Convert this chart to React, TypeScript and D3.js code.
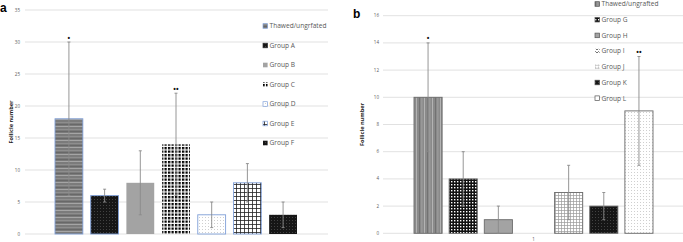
import React from "react";
import * as d3 from "d3";

// ---------- Data ----------
const groupsA = ["Thawed/ungrfated", "Group A", "Group B", "Group C", "Group D", "Group E", "Group F"];
const valuesA = [18, 6, 8, 14, 3, 8, 3];
const errLowA = [6, 5, 3, 6, 1, 5, 1];
const errHighA = [30, 7, 13, 22, 5, 11, 5];
const starsA = ["*", "", "", "**", "", "", ""];
const ticksA = [0, 5, 10, 15, 20, 25, 30, 35];

const groupsB = ["Thawed/ungrafted", "Group G", "Group H", "Group I", "Group J", "Group K", "Group L"];
const valuesB = [10, 4, 1, 0, 3, 2, 9];
const errLowB = [6, 2, 0, 0, 1, 1, 5];
const errHighB = [14, 6, 2, 0, 5, 3, 13];
const starsB = ["*", "", "", "", "", "", "**"];
const ticksB = [0, 2, 4, 6, 8, 10, 12, 14, 16];
const xLabelB = "1";

const yTitle = "Follicle number";

// ---------- Styles ----------
const patA = ["pHStripe", "pDarkDots", "pGrey", "pCheck", "pLightDots", "pGrid", "pDarkDots"];
const borderA = ["#7f9fd8", "#7f9fd8", "none", "none", "#7f9fd8", "#7f9fd8", "none"];
const patB = ["pVStripe", "pSmallCheck", "pGrey", "pZig", "pLightGrid", "pDarkDots", "pLightDots"];
const borderB = ["#6a6a6a", "#6a6a6a", "#6a6a6a", "none", "#6a6a6a", "#6a6a6a", "#6a6a6a"];
const legPatA = ["pHStripe", "pDarkDots", "pGrey", "pCheck", "pLightDots", "pGrid", "pDarkDots"];
const legPatB = ["pVStripe", "pSmallCheck", "pGrey", "pZig", "pTri", "pDarkDots", "pWhite"];

const font = "'Open Sans', 'Noto Sans', sans-serif";
const textCol = "#595959";

function Defs() {
  return (
    <defs>
      <pattern id="pHStripe" width="6" height="7" patternUnits="userSpaceOnUse">
        <rect width="6" height="7" fill="#7b7b7b" />
        <rect y="0" width="6" height="0.8" fill="#b0b0b0" />
        <rect y="3" width="6" height="0.6" fill="#9a9a9a" />
        <rect y="5" width="6" height="0.7" fill="#5f5f5f" />
      </pattern>
      <pattern id="pVStripe" width="8" height="6" patternUnits="userSpaceOnUse">
        <rect width="8" height="6" fill="#8a8a8a" />
        <rect x="0" width="1" height="6" fill="#b3b3b3" />
        <rect x="3" width="0.8" height="6" fill="#6c6c6c" />
        <rect x="5.5" width="0.8" height="6" fill="#a6a6a6" />
      </pattern>
      <pattern id="pDarkDots" width="3" height="3" patternUnits="userSpaceOnUse">
        <rect width="3" height="3" fill="#161616" />
        <rect x="1" y="1" width="0.8" height="0.8" fill="#5a5a5a" />
      </pattern>
      <pattern id="pGrey" width="4" height="4" patternUnits="userSpaceOnUse">
        <rect width="4" height="4" fill="#a3a3a3" />
      </pattern>
      <pattern id="pCheck" width="3.5" height="3.5" patternUnits="userSpaceOnUse">
        <rect width="3.5" height="3.5" fill="#ffffff" />
        <rect x="0" y="0" width="2.3" height="2.3" fill="#000000" />
      </pattern>
      <pattern id="pSmallCheck" width="3" height="3" patternUnits="userSpaceOnUse">
        <rect width="3" height="3" fill="#111111" />
        <rect x="1" y="1" width="1.4" height="1.4" fill="#ffffff" />
      </pattern>
      <pattern id="pLightDots" width="3" height="3" patternUnits="userSpaceOnUse">
        <rect width="3" height="3" fill="#ffffff" />
        <rect x="1" y="1" width="0.8" height="0.8" fill="#b5b5b5" />
      </pattern>
      <pattern id="pGrid" width="4" height="4" patternUnits="userSpaceOnUse">
        <rect width="4" height="4" fill="#ffffff" />
        <rect x="0" y="0" width="4" height="0.8" fill="#222" />
        <rect x="0" y="0" width="0.8" height="4" fill="#222" />
      </pattern>
      <pattern id="pLightGrid" width="3" height="3" patternUnits="userSpaceOnUse">
        <rect width="3" height="3" fill="#ffffff" />
        <rect x="0" y="0" width="3" height="0.7" fill="#9a9a9a" />
        <rect x="0" y="0" width="0.7" height="3" fill="#9a9a9a" />
      </pattern>
      <pattern id="pZig" width="3" height="3" patternUnits="userSpaceOnUse">
        <rect width="3" height="3" fill="#ffffff" />
        <path d="M0,2 L1.5,0.5 L3,2" stroke="#333" strokeWidth="0.7" fill="none" />
      </pattern>
      <pattern id="pTri" width="3" height="3" patternUnits="userSpaceOnUse">
        <rect width="3" height="3" fill="#ffffff" />
        <path d="M0,3 L1.5,0 L3,3 Z" fill="#c8c8c8" />
      </pattern>
      <pattern id="pWhite" width="3" height="3" patternUnits="userSpaceOnUse">
        <rect width="3" height="3" fill="#ffffff" />
      </pattern>
    </defs>
  );
}

interface PanelProps {
  groups: string[];
  values: number[];
  lo: number[];
  hi: number[];
  stars: string[];
  ticks: number[];
  yMax: number;
  yRange: [number, number];
  xRange: [number, number];
  padInner: number;
  gridX: [number, number];
  tickX: number;
  titleX: number;
  pats: string[];
  borders: string[];
  legPats: string[];
  legBorders: string[];
  legX: number;
  legY0: number;
  legStep: number;
  label: string;
  labelX: number;
  xLabel?: string;
}

function Panel(p: PanelProps) {
  const y = d3.scaleLinear().domain([0, p.yMax]).range(p.yRange);
  const x = d3.scaleBand<string>().domain(p.groups).range(p.xRange).paddingInner(p.padInner).paddingOuter(0);
  const bw = x.bandwidth();
  const titleY = (p.yRange[0] + p.yRange[1]) / 2;
  return (
    <g>
      {p.ticks.map((t) => (
        <g key={"t" + t}>
          <line x1={p.gridX[0]} x2={p.gridX[1]} y1={y(t)} y2={y(t)} stroke="#d9d9d9" strokeWidth={0.8} />
          <text x={p.tickX} y={y(t)} dy="0.35em" textAnchor="end" fontSize={4.5} fill={textCol} fontFamily={font}>
            {t}
          </text>
        </g>
      ))}
      <text
        transform={`translate(${p.titleX},${titleY}) rotate(-90)`}
        textAnchor="middle"
        fontSize={5.6}
        fontWeight="bold"
        fill="#222"
        fontFamily={font}
      >
        {p.yTitleText}
      </text>
      {p.groups.map((g, i) => {
        const v = p.values[i];
        const x0 = x(g) as number;
        const cx = x0 + bw / 2;
        return (
          <g key={g}>
            {v > 0 && (
              <rect
                x={x0}
                y={y(v)}
                width={bw}
                height={y(0) - y(v)}
                fill={`url(#${p.pats[i]})`}
                stroke={p.borders[i]}
                strokeWidth={0.9}
              />
            )}
            {p.hi[i] > p.lo[i] && (
              <g stroke="#8a8a8a" strokeWidth={0.9}>
                <line x1={cx} x2={cx} y1={y(p.hi[i])} y2={y(p.lo[i])} />
                <line x1={cx - 1.5} x2={cx + 1.5} y1={y(p.hi[i])} y2={y(p.hi[i])} />
                <line x1={cx - 1.5} x2={cx + 1.5} y1={y(p.lo[i])} y2={y(p.lo[i])} />
              </g>
            )}
            {p.stars[i] && (
              <text x={cx} y={y(p.hi[i]) - 1.5} textAnchor="middle" fontSize={7} fontWeight="bold" fill="#111" fontFamily={font}>
                {p.stars[i] === "*" ? "•" : "••"}
              </text>
            )}
          </g>
        );
      })}
      {p.groups.map((g, i) => {
        const ly = p.legY0 + i * p.legStep;
        return (
          <g key={"l" + g}>
            <rect
              x={p.legX}
              y={ly - 2.3}
              width={4.6}
              height={4.6}
              fill={`url(#${p.legPats[i]})`}
              stroke={p.legBorders[i]}
              strokeWidth={0.7}
            />
            <text x={p.legX + 6.5} y={ly} dy="0.35em" fontSize={6.6} fill={textCol} fontFamily={font}>
              {g}
            </text>
          </g>
        );
      })}
      {p.xLabel && (
        <text x={(p.xRange[0] + p.xRange[1]) / 2} y={p.yRange[0] + 6} dy="0.35em" textAnchor="middle" fontSize={4.5} fill={textCol} fontFamily={font}>
          {p.xLabel}
        </text>
      )}
      <text x={p.labelX} y={p.yRange[1] + 2} fontSize={12} fontWeight="bold" fill="#000" fontFamily="'Liberation Sans', Arial, sans-serif">
        {p.label}
      </text>
    </g>
  );
}

export default function App() {
  return (
    <svg width={683} height={242} style={{ position: "absolute", left: 0, top: 0, background: "#fff" }}>
      <Defs />
      <rect width={683} height={242} fill="#fff" />
      <Panel
        groups={groupsA}
        values={valuesA}
        lo={errLowA}
        hi={errHighA}
        stars={starsA}
        ticks={ticksA}
        yMax={35}
        yRange={[234, 10]}
        xRange={[55, 297]}
        padInner={0.22}
        gridX={[25, 328]}
        tickX={20}
        titleX={13}
        pats={patA}
        borders={borderA}
        legPats={legPatA}
        legBorders={["#7f9fd8", "#333", "none", "none", "#7f9fd8", "#7f9fd8", "none"]}
        legX={263}
        legY0={26}
        legStep={19.5}
        label="a"
        labelX={0}
        {...({ yTitleText: yTitle } as any)}
      />
      <Panel
        groups={groupsB}
        values={valuesB}
        lo={errLowB}
        hi={errHighB}
        stars={starsB}
        ticks={ticksB}
        yMax={16}
        yRange={[233.3, 15.7]}
        xRange={[414, 653]}
        padInner={0.2}
        gridX={[383, 683]}
        tickX={379}
        titleX={364}
        pats={patB}
        borders={borderB}
        legPats={legPatB}
        legBorders={["#555", "#555", "#555", "none", "none", "#555", "#555"]}
        legX={595}
        legY0={4}
        legStep={15.7}
        label="b"
        labelX={353}
        xLabel={xLabelB}
        {...({ yTitleText: yTitle } as any)}
      />
    </svg>
  );
}
